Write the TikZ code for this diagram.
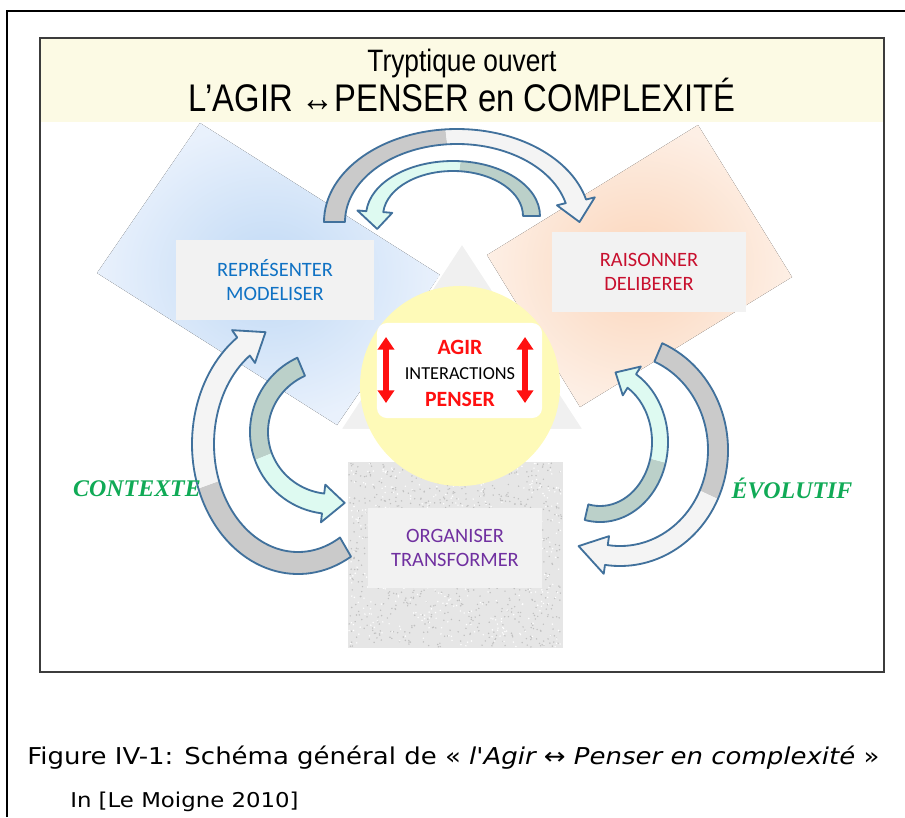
\documentclass[tikz,border=0pt]{standalone}
\usepackage{fontspec}
\setmainfont{Liberation Sans}
\newfontfamily\titlefont[FakeStretch=0.85]{Liberation Sans}
\newfontfamily\boxfont{Carlito}
\newfontfamily\sidefont{Liberation Serif}
\newfontfamily\capfont[FakeStretch=1.12]{DejaVu Sans}
\usetikzlibrary{arrows.meta}
\definecolor{bandcol}{RGB}{252,250,228}
\definecolor{bluein}{RGB}{192,217,245}
\definecolor{blueout}{RGB}{233,241,252}
\definecolor{peachin}{RGB}{251,213,186}
\definecolor{peachout}{RGB}{253,239,229}
\definecolor{tricol}{RGB}{240,240,240}
\definecolor{coreyellow}{RGB}{254,250,184}
\definecolor{boxgray}{RGB}{242,242,242}
\definecolor{noisebase}{RGB}{230,230,230}
\definecolor{noisedot}{RGB}{192,192,192}
\definecolor{arrowline}{RGB}{65,113,156}
\definecolor{bigtail}{RGB}{202,202,202}
\definecolor{bighead}{RGB}{244,244,244}
\definecolor{smalltail}{RGB}{187,208,201}
\definecolor{smallhead}{RGB}{222,250,241}
\definecolor{agirred}{RGB}{255,16,16}
\definecolor{bluetext}{RGB}{16,114,196}
\definecolor{redtext}{RGB}{200,16,46}
\definecolor{purpletext}{RGB}{112,48,160}
\definecolor{sidegreen}{RGB}{16,170,86}
\definecolor{framegray}{RGB}{60,60,60}
% point on an ellipse round the current origin
\newcommand{\ep}[3]{(xyz polar cs:angle=#1, x radius=#2, y radius=#3)}
% curved band arrow round the current origin:
% #1 colour set, #2-#3 outer radii, #4-#5 inner radii,
% #6 tail angle, #7 head angle, #8 colour split, #9 tip angle
\newcommand{\bandarrow}[9]{%
  \pgfmathsetmacro{\rxm}{(#2+#4)/2}\pgfmathsetmacro{\rym}{(#3+#5)/2}%
  \pgfmathsetmacro{\rxw}{#2+9}\pgfmathsetmacro{\ryw}{#3+9}%
  \pgfmathsetmacro{\rxv}{#4-9}\pgfmathsetmacro{\ryv}{#5-9}%
  \fill[#1tail] \ep{#6}{#2}{#3}
    arc[start angle=#6, end angle=#8, x radius=#2, y radius=#3]
    -- \ep{#8}{#4}{#5}
    arc[start angle=#8, end angle=#6, x radius=#4, y radius=#5] -- cycle;
  \fill[#1head] \ep{#8}{#2}{#3}
    arc[start angle=#8, end angle=#7, x radius=#2, y radius=#3]
    -- \ep{#7}{\rxw}{\ryw} -- \ep{#9}{\rxm}{\rym} -- \ep{#7}{\rxv}{\ryv}
    -- \ep{#7}{#4}{#5}
    arc[start angle=#7, end angle=#8, x radius=#4, y radius=#5] -- cycle;
  \draw[bandline] \ep{#6}{#2}{#3}
    arc[start angle=#6, end angle=#7, x radius=#2, y radius=#3]
    -- \ep{#7}{\rxw}{\ryw} -- \ep{#9}{\rxm}{\rym} -- \ep{#7}{\rxv}{\ryv}
    -- \ep{#7}{#4}{#5}
    arc[start angle=#7, end angle=#6, x radius=#4, y radius=#5] -- cycle;}

\begin{document}
\begin{tikzpicture}[x=0.025cm, y=0.025cm,
    txtbox/.style={fill=boxgray, minimum width=#1, minimum height=2cm,
                   inner sep=0pt, align=center,
                   font=\boxfont\fontsize{14.5}{17.2}\selectfont},
    bandline/.style={draw=arrowline, line width=1.3pt, line join=round},
    updown/.style={draw=agirred, line width=4.3pt,
                   arrows={Triangle[width=11.5pt,length=9pt]-Triangle[width=11.5pt,length=9pt]}},
    corefont/.style={font=\boxfont\bfseries\fontsize{15.5}{18}\selectfont,
                     text=agirred, inner sep=0pt},
    sidelbl/.style={font=\sidefont\bfseries\itshape\fontsize{17}{20}\selectfont,
                    text=sidegreen, inner sep=0pt},
    capline/.style={anchor=base west, inner sep=0pt}]
  \useasboundingbox (0,0) rectangle (905,-817);
  % ----- soft tilted panels
  \fill[shading=radial, inner color=bluein, outer color=blueout]
    (200,-123) -- (97,-273) -- (337,-425) -- (440,-275) -- cycle;
  \fill[shading=radial, inner color=peachin, outer color=peachout]
    (698,-125) -- (792,-277) -- (580,-407) -- (487,-255) -- cycle;
  % ----- title band
  \fill[bandcol] (40,-38) rectangle (884,-122);
  \node[font=\titlefont\fontsize{22}{26}\selectfont, anchor=base] (subtitle)
    at (462,-71) {Tryptique ouvert};
  \node[font=\titlefont\fontsize{27.4}{31}\selectfont, anchor=base] (title)
    at (462,-111) {L’AGIR ↔PENSER en COMPLEXITÉ};
  % ----- pale triangle, grainy square, yellow core
  \filldraw[fill=tricol, draw=white, line width=1.5pt]
    (462,-243) -- (584,-430) -- (340,-430) -- cycle;
  \fill[noisebase] (348,-462) rectangle (563,-648);
  \pgfmathsetseed{11}
  \foreach \k in {1,...,900}{
    \pgfmathsetmacro{\nx}{349+213*rnd}
    \pgfmathsetmacro{\ny}{-463-184*rnd}
    \fill[noisedot] (\nx,\ny) circle[radius=0.8];
  }
  \foreach \k in {1,...,500}{
    \pgfmathsetmacro{\nx}{349+213*rnd}
    \pgfmathsetmacro{\ny}{-463-184*rnd}
    \fill[white] (\nx,\ny) circle[radius=0.8];
  }
  \node[circle, fill=coreyellow, minimum size=5cm, inner sep=0pt] (core)
    at (460,-386) {};
  \node[fill=white, rounded corners=7pt, minimum width=4.125cm,
        minimum height=2.375cm] (corebox) at (459.5,-370.5) {};
  \node[corefont] (agir) at (460,-347) {AGIR};
  \node[font=\boxfont\fontsize{13}{15}\selectfont, inner sep=0pt] (inter)
    at (460,-374) {INTERACTIONS};
  \node[corefont] (penser) at (460,-399) {PENSER};
  \coordinate (lup) at (386,-337);
  \coordinate (ldown) at (386,-403);
  \coordinate (rup) at (525,-337);
  \coordinate (rdown) at (525,-403);
  \draw[updown] (lup) -- (ldown);
  \draw[updown] (rup) -- (rdown);
  % ----- the three poles
  \node[txtbox=4.95cm, text=bluetext] (repr) at (275,-280)
    {REPRÉSENTER\\MODELISER};
  \node[txtbox=4.85cm, text=redtext] (rais) at (649,-272)
    {RAISONNER\\DELIBERER};
  \node[txtbox=4.35cm, text=purpletext] (orga) at (455,-548)
    {ORGANISER\\TRANSFORMER};
  % ----- curved arrows, top pair
  \begin{scope}[shift={(457,-222)}]
    \bandarrow{big}{133}{93}{112}{78}{180}{14}{95}{0}
  \end{scope}
  \begin{scope}[shift={(453,-216)}]
    \bandarrow{small}{87}{55}{70}{45}{0}{175}{85}{195}
  \end{scope}
  % ----- left pair
  \begin{scope}[shift={(298,-444)}]
    \bandarrow{big}{106}{130}{84}{108}{-60}{-235}{-160}{-250}
  \end{scope}
  \begin{scope}[shift={(332,-432)}]
    \bandarrow{small}{82}{82}{64}{62}{115}{263}{200}{280}
  \end{scope}
  % ----- right pair
  \begin{scope}[shift={(620,-450)}]
    \bandarrow{big}{108}{116}{88}{96}{67}{-98}{-25}{-115}
  \end{scope}
  \begin{scope}[shift={(600,-442)}]
    \bandarrow{small}{68}{80}{52}{64}{-103}{58}{-15}{75}
  \end{scope}
  % ----- side words
  \node[sidelbl] (ctx) at (137,-489) {CONTEXTE};
  \node[sidelbl] (evo) at (792,-488) {ÉVOLUTIF};
  % ----- frames
  \draw[line width=0.9pt, framegray] (40,-38) rectangle (884,-672);
  \draw[line width=1.4pt] (7,-817) -- (7,-11) -- (905,-11);
  % ----- caption
  \node[capline, font=\capfont\fontsize{16.5}{19}\selectfont] (cap) at (27,-764)
    {Figure IV-1: Schéma général de « {\itshape l'Agir ↔ Penser en complexité} »};
  \node[capline, font=\capfont\fontsize{14.5}{17}\selectfont] (src) at (70,-807)
    {In [Le Moigne 2010]};
\end{tikzpicture}
\end{document}
